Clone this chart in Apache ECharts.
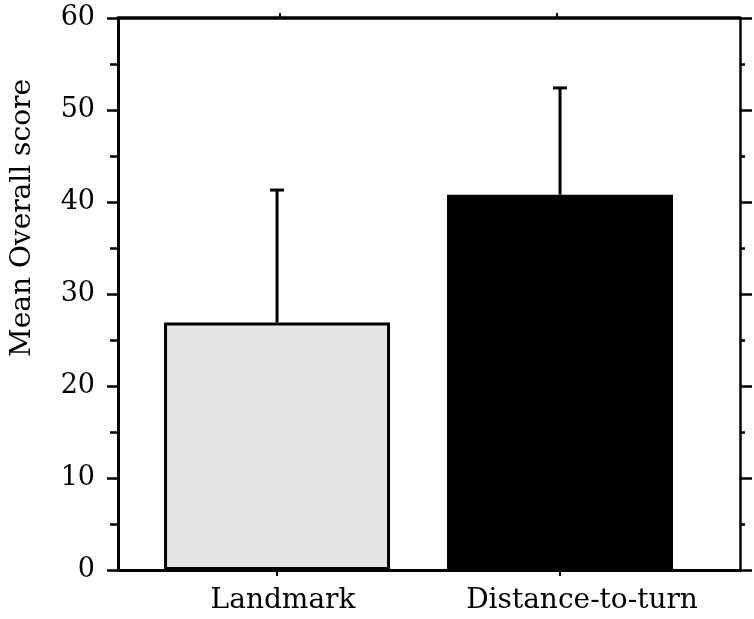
<!DOCTYPE html>
<html>
<head>
<meta charset="utf-8">
<script src="https://cdn.jsdelivr.net/npm/echarts@6/dist/echarts.min.js"></script>
<style>
  html, body { margin: 0; padding: 0; background: #fff; }
  #chart { width: 754px; height: 619px; }
</style>
</head>
<body>
<div id="chart"></div>
<script>
// ---- data ----
const categories = ['Landmark', 'Distance-to-turn'];
const meanScores = [26.9, 40.8];
const upperErrors = [41.3, 52.4];
const yTickValues = [0, 10, 20, 30, 40, 50, 60];
const yTitle = 'Mean Overall score';

// ---- build ----
const positions = categories.map((c, i) => i + 1);
const barData = meanScores.map((v, i) => ({
  value: [positions[i], v],
  itemStyle: i === 0
    ? { color: '#e4e4e4', borderColor: '#000', borderWidth: 3 }
    : { color: '#000', borderColor: '#000', borderWidth: 0 }
}));
const errData = meanScores.map((v, i) => [positions[i], v, upperErrors[i]]);
const FONT = 'DejaVu Serif';
const labelPad = [[0, 0, 0, 12], [0, 0, 0, 44]];

const chart = echarts.init(document.getElementById('chart'), null, { renderer: 'canvas' });
chart.setOption({
  animation: false,
  backgroundColor: '#fff',
  grid: { left: 118, right: 14, top: 18, bottom: 49, containLabel: false },
  xAxis: [
    {
      type: 'value', position: 'bottom', min: 0.438, max: 2.636,
      axisLine: { show: true, onZero: false, lineStyle: { color: '#000', width: 3 } },
      axisTick: { show: true, customValues: positions, length: 6, inside: false, lineStyle: { color: '#000', width: 2 } },
      axisLabel: {
        show: true, customValues: positions, margin: 17,
        formatter: v => {
          const i = Math.round(v) - 1;
          return '{c' + i + '|' + categories[i] + '}';
        },
        rich: {
          c0: { fontFamily: FONT, fontSize: 28, color: '#000', padding: labelPad[0] },
          c1: { fontFamily: FONT, fontSize: 28, color: '#000', padding: labelPad[1] }
        }
      },
      splitLine: { show: false }
    },
    {
      type: 'value', position: 'top', min: 0.438, max: 2.636,
      axisLine: { show: true, onZero: false, lineStyle: { color: '#000', width: 3.5 } },
      axisTick: { show: true, customValues: [positions[0] + 0.01, positions[1] - 0.01], length: 5, inside: false, lineStyle: { color: '#000', width: 2 } },
      axisLabel: { show: false },
      splitLine: { show: false }
    }
  ],
  yAxis: [
    {
      type: 'value', position: 'left', min: yTickValues[0], max: yTickValues[yTickValues.length - 1], interval: 10,
      axisLine: { show: true, onZero: false, lineStyle: { color: '#000', width: 3 } },
      axisTick: { show: true, length: 11, inside: false, lineStyle: { color: '#000', width: 2.5 } },
      minorTick: { show: true, splitNumber: 2, length: 8, lineStyle: { color: '#000', width: 2.5 } },
      axisLabel: { show: true, margin: 23, fontFamily: FONT, fontSize: 27, color: '#000' },
      splitLine: { show: false }
    },
    {
      type: 'value', position: 'right', min: yTickValues[0], max: yTickValues[yTickValues.length - 1], interval: 10,
      axisLine: { show: true, onZero: false, lineStyle: { color: '#000', width: 2.5 } },
      axisTick: { show: true, length: 12, inside: false, lineStyle: { color: '#000', width: 2.5 } },
      minorTick: { show: true, splitNumber: 2, length: 5, lineStyle: { color: '#000', width: 2.5 } },
      axisLabel: { show: false },
      splitLine: { show: false }
    }
  ],
  graphic: [
    {
      type: 'text', x: 23, y: 218, rotation: Math.PI / 2,
      style: { text: yTitle, font: '28px "DejaVu Serif"', fill: '#000', textAlign: 'center', textVerticalAlign: 'middle' }
    }
  ],
  series: [
    {
      type: 'bar', xAxisIndex: 0, yAxisIndex: 0, barWidth: 226,
      data: barData, z: 2
    },
    {
      type: 'custom', xAxisIndex: 0, yAxisIndex: 0, z: 3,
      data: errData,
      renderItem: (params, api) => {
        const base = api.coord([api.value(0), api.value(1)]);
        const top = api.coord([api.value(0), api.value(2)]);
        const half = 7;
        const style = { stroke: '#000', lineWidth: 3 };
        return {
          type: 'group',
          children: [
            { type: 'line', shape: { x1: top[0], y1: top[1], x2: base[0], y2: base[1] }, style },
            { type: 'line', shape: { x1: top[0] - half, y1: top[1], x2: top[0] + half, y2: top[1] }, style }
          ]
        };
      }
    }
  ]
});
</script>
</body>
</html>
